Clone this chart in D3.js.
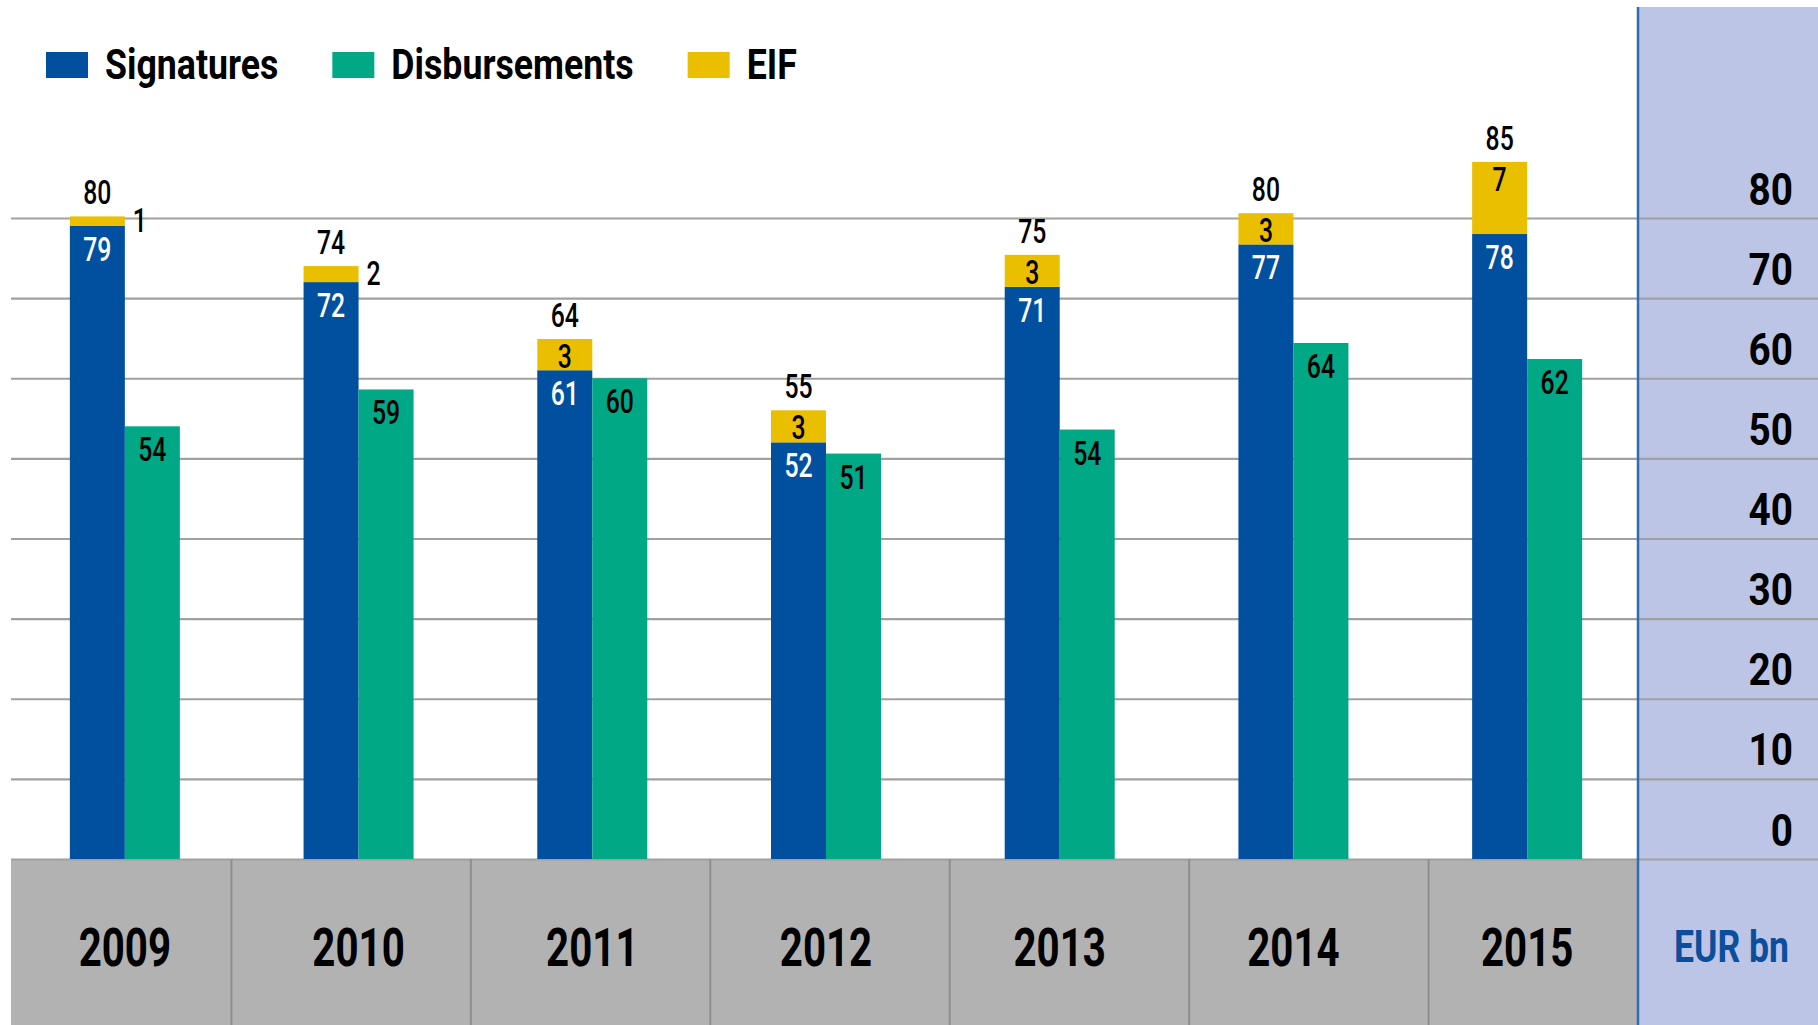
<!DOCTYPE html>
<html lang="en">
<head>
    <meta charset="utf-8">
    <title>EIB Group lending 2009-2015</title>
    <script type="text/javascript" src="https://cdnjs.cloudflare.com/ajax/libs/d3/7.8.5/d3.min.js"></script>
	<style>
	body { margin: 0; background: #fff; }
	svg text {
	  font-family: Roboto, "Noto Sans", sans-serif;
	}
	.lbl { font-size: 33px; font-weight: 500; }
	</style>
</head>
<body>
    <script type="text/javascript">
      //data (EUR bn)
      var years = ["2009", "2010", "2011", "2012", "2013", "2014", "2015"];
      var signatures = [79, 72, 61, 52, 71.4, 76.7, 78];
      var disbursements = [54, 58.6, 60, 50.6, 53.6, 64.4, 62.4];
      var eif = [1.2, 2, 3.9, 4, 4, 3.9, 9];
      var eifLabels = [1, 2, 3, 3, 3, 3, 7];
      var totalLabels = [80, 74, 64, 55, 75, 80, 85];
      var yTicks = [0, 10, 20, 30, 40, 50, 60, 70, 80];
      var seriesNames = ["Signatures", "Disbursements", "EIF"];
      var seriesColors = ["#00509f", "#00a886", "#eabf00"];

      var W = 1818, H = 1025;
      var plotLeft = 11, plotRight = 1638, base = 859, panelTop = 7;
      var barW = 55;

      //no condensed font available, so squeeze text horizontally
      function squeeze(sel, sx) {
        sel.each(function() {
          var t = d3.select(this);
          var tx = +t.attr("x") || 0, ty = +t.attr("y") || 0;
          t.attr("x", 0).attr("y", 0)
          .attr("transform", "translate(" + tx + "," + ty + ") scale(" + sx + ",1)");
        });
      }

      var svg = d3.select("body").append("svg")
      .attr("width", W)
      .attr("height", H);

      //scales
      var x = d3.scaleBand()
      .domain(years)
      .range([8, 1644]);

      //cells of the year band are a little wider than the bar slots
      var cell = d3.scaleBand()
      .domain(years)
      .range([-8, 1668]);

      var y = d3.scaleLinear()
      .domain([0, 80])
      .range([base, 218]);

      //right hand panel with the value axis
      svg.append("rect")
      .attr("x", plotRight).attr("y", panelTop)
      .attr("width", W - plotRight).attr("height", H - panelTop)
      .attr("fill", "#bcc5e6");

      //grey band under the bars for the years
      svg.append("rect")
      .attr("x", plotLeft).attr("y", base)
      .attr("width", plotRight - plotLeft).attr("height", H - base)
      .attr("fill", "#b2b2b2");

      //gridlines + tick labels
      var yAxis = svg.append("g")
      .attr("transform", "translate(" + W + ",0)")
      .call(d3.axisLeft(y).tickValues(yTicks).tickSize(W - plotLeft).tickFormat(d3.format("d")));
      yAxis.select(".domain").remove();
      yAxis.selectAll(".tick line")
      .attr("stroke", "#a0a0a0")
      .attr("stroke-width", 2.2);
      yAxis.selectAll(".tick text")
      .attr("x", -25)
      .attr("dy", 0)
      .attr("y", -14)
      .attr("text-anchor", "end")
      .attr("fill", "#000")
      .style("font-size", "45px")
      .style("font-weight", "bold")
      .call(squeeze, 0.86);

      //year separators in the grey band
      svg.append("g").selectAll("line")
      .data(years.slice(1))
      .enter().append("line")
      .attr("x1", function(d) { return Math.min(cell(d), plotRight); })
      .attr("x2", function(d) { return Math.min(cell(d), plotRight); })
      .attr("y1", base).attr("y2", H)
      .attr("stroke", "#8e8e8e")
      .attr("stroke-width", 2);

      //bars
      var group = svg.append("g").selectAll(".year")
      .data(years)
      .enter().append("g")
      .attr("class", "year")
      .attr("transform", function(d) { return "translate(" + (x(d) + x.bandwidth() / 2) + ",0)"; });

      group.append("rect")
      .attr("x", -barW).attr("width", barW)
      .attr("y", function(d, i) { return y(signatures[i]); })
      .attr("height", function(d, i) { return base - y(signatures[i]); })
      .attr("fill", seriesColors[0]);

      group.append("rect")
      .attr("x", -barW).attr("width", barW)
      .attr("y", function(d, i) { return y(signatures[i] + eif[i]); })
      .attr("height", function(d, i) { return y(signatures[i]) - y(signatures[i] + eif[i]); })
      .attr("fill", seriesColors[2]);

      group.append("rect")
      .attr("x", 0).attr("width", barW)
      .attr("y", function(d, i) { return y(disbursements[i]); })
      .attr("height", function(d, i) { return base - y(disbursements[i]); })
      .attr("fill", seriesColors[1]);

      //value labels
      var fmt = d3.format(".0f");

      group.append("text")
      .attr("class", "lbl")
      .attr("x", -barW / 2)
      .attr("y", function(d, i) { return y(signatures[i]) + 35; })
      .attr("text-anchor", "middle")
      .attr("fill", "#fff")
      .text(function(d, i) { return fmt(signatures[i]); })
      .call(squeeze, 0.75);

      group.append("text")
      .attr("class", "lbl")
      .attr("x", barW / 2)
      .attr("y", function(d, i) { return y(disbursements[i]) + 35; })
      .attr("text-anchor", "middle")
      .attr("fill", "#000")
      .text(function(d, i) { return fmt(disbursements[i]); })
      .call(squeeze, 0.75);

      //small EIF values sit beside the bar, others inside the segment
      group.append("text")
      .attr("class", "lbl")
      .attr("x", function(d, i) { return eifLabels[i] < 3 ? 8 : -barW / 2; })
      .attr("y", function(d, i) {
        var top = y(signatures[i] + eif[i]);
        if (eifLabels[i] < 3) return (top + y(signatures[i])) / 2 + 11;
        return top + 29;
      })
      .attr("text-anchor", function(d, i) { return eifLabels[i] < 3 ? "start" : "middle"; })
      .attr("fill", "#000")
      .text(function(d, i) { return eifLabels[i]; })
      .call(squeeze, 0.75);

      group.append("text")
      .attr("class", "lbl")
      .attr("x", -barW / 2)
      .attr("y", function(d, i) { return y(signatures[i] + eif[i]) - 12; })
      .attr("text-anchor", "middle")
      .attr("fill", "#000")
      .text(function(d, i) { return totalLabels[i]; })
      .call(squeeze, 0.75);

      //year labels
      var xAxis = svg.append("g")
      .attr("transform", "translate(0," + base + ")")
      .call(d3.axisBottom(x).tickSize(0));
      xAxis.select(".domain").remove();
      xAxis.selectAll("text")
      .attr("y", 107)
      .attr("dy", 0)
      .attr("fill", "#000")
      .style("font-size", "53px")
      .style("font-weight", "bold")
      .call(squeeze, 0.76);

      //blue separator of the axis panel
      svg.append("line")
      .attr("x1", plotRight).attr("x2", plotRight)
      .attr("y1", panelTop).attr("y2", H)
      .attr("stroke", "#2f6db5")
      .attr("stroke-width", 2.5);

      svg.append("text")
      .attr("x", 1789)
      .attr("y", 962)
      .attr("text-anchor", "end")
      .attr("fill", "#0a4f9e")
      .style("font-size", "45px")
      .style("font-weight", "bold")
      .text("EUR bn")
      .call(squeeze, 0.79);

      //legend
      var legend = svg.append("g");
      var lx = 46, legendSx = 0.85;
      seriesNames.forEach(function(name, i) {
        legend.append("rect")
        .attr("x", lx).attr("y", 52)
        .attr("width", 42).attr("height", 26)
        .attr("fill", seriesColors[i]);
        var t = legend.append("text")
        .attr("x", lx + 59)
        .attr("y", 79)
        .style("font-size", "42px")
        .style("font-weight", "bold")
        .text(name)
        .call(squeeze, legendSx);
        lx = lx + 59 + t.node().getComputedTextLength() * legendSx + 54;
      });

    </script>
</body>
</html>
